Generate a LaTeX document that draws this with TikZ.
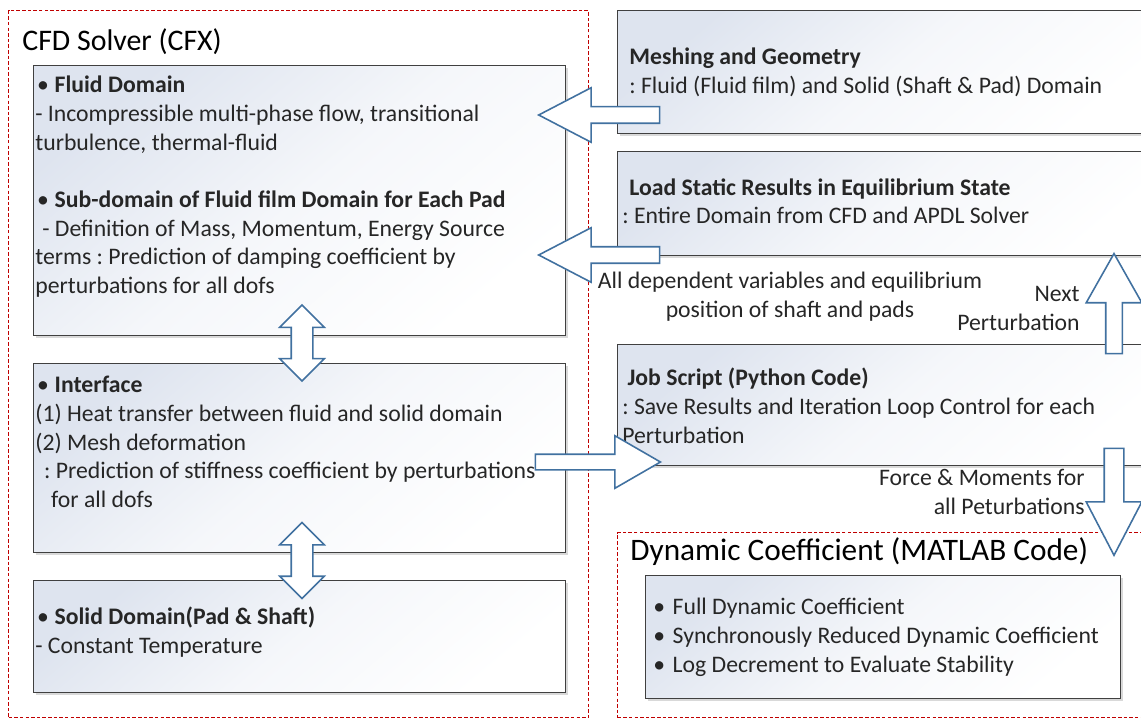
\documentclass[tikz,border=0pt]{standalone}
\usepackage{fontspec}
\setmainfont{Carlito}
\usetikzlibrary{shapes.arrows,shadows,positioning}
\definecolor{framered}{RGB}{192,0,0}
\definecolor{arrowblue}{RGB}{65,113,160}
\definecolor{boxtop}{RGB}{222,228,239}
\definecolor{boxline}{RGB}{64,64,64}
\newcommand{\bodysize}{\fontsize{13.5}{16.3}\selectfont}
\newcommand{\headsize}{\fontsize{17}{20}\selectfont}
\newcommand{\itm}{\makebox[10pt][l]{\textbullet}}
\newcommand{\litm}{\makebox[11pt][l]{\textbullet}}
\frenchspacing

\begin{document}
\begin{tikzpicture}[%
    x=0.02cm, y=-0.02cm,        % one unit is one pixel of the original
    every node/.style={inner sep=0pt},
    ]
\tikzset{
  frame/.style={draw=framered, line width=0.8pt, dash pattern=on 2pt off 1.2pt, anchor=north west},
  panel/.style={draw=boxline, line width=0.7pt, anchor=north west,
    top color=boxtop, bottom color=white, middle color=white!70!boxtop, shading angle=40,
    drop shadow={opacity=0.3, shadow xshift=1.5pt, shadow yshift=-1.5pt}},
  txt/.style={anchor=north west, align=left, font=\bodysize, text=black!85},
  bigarrow/.style={single arrow, draw=arrowblue, fill=white, line width=0.9pt,
    inner xsep=0pt, anchor=tip},
  twoarrow/.style={double arrow, draw=arrowblue, fill=white, line width=0.9pt,
    rotate=90, minimum height=1.52cm, inner xsep=0pt, inner ysep=0.2cm,
    double arrow head extend=0.23cm, double arrow tip angle=90},
}
\useasboundingbox (0,0) rectangle (1141,719);

% left side: CFD solver
\node [frame, minimum width=11.6cm, minimum height=14.14cm] (cfd) at (8,10) {};
\node [anchor=west, font=\headsize] (cfdtitle) at (22,42) {CFD Solver (CFX)};
\node [panel, minimum width=10.64cm, minimum height=5.4cm] (fluid) at (33,65) {};
\node [panel, minimum width=10.64cm, minimum height=3.78cm] (iface) at (33,363) {};
\node [panel, minimum width=10.64cm, minimum height=2.24cm] (solid) at (33,580) {};

\node [txt] (fluidtxt) at (35,76) {\hspace*{1pt}\itm\textbf{Fluid Domain}\\
  - Incompressible multi-phase flow, transitional\\
  turbulence, thermal-fluid\\[16.3pt]
  \hspace*{1pt}\itm\textbf{Sub-domain of Fluid film Domain for Each Pad}\\
  \hspace*{4pt}- Definition of Mass, Momentum, Energy Source\\
  terms : Prediction of damping coefficient by\\
  perturbations for all dofs};
\node [txt] (ifacetxt) at (35,376) {\hspace*{1pt}\itm\textbf{Interface}\\
  (1) Heat transfer between fluid and solid domain\\
  (2) Mesh deformation\\
  \hspace*{5pt}: Prediction of stiffness coefficient by perturbations\\
  \hspace*{9pt}for all dofs};
\node [txt] (solidtxt) at (35,607) {\hspace*{1pt}\itm\textbf{Solid Domain(Pad \& Shaft)}\\
  - Constant Temperature};

% right side: pre-processing and job control
\node [panel, minimum width=11cm, minimum height=2.46cm] (mesh) at (617,10) {};
\node [panel, minimum width=11cm, minimum height=2.08cm] (load) at (617,151) {};
\node [panel, minimum width=11cm, minimum height=2.42cm] (job) at (617,344) {};
\node [frame, minimum width=11cm, minimum height=3.7cm] (dyn) at (617,532) {};
\node [panel, minimum width=9.5cm, minimum height=2.46cm] (coef) at (645,575) {};

\node [txt] (meshtxt) at (622,48) {\hspace*{4pt}\textbf{Meshing and Geometry}\\
  \hspace*{4pt}: Fluid (Fluid film) and Solid (Shaft \& Pad) Domain};
\node [txt] (loadtxt) at (622,178) {\hspace*{4pt}\textbf{Load Static Results in Equilibrium State}\\
  : Entire Domain from CFD and APDL Solver};
\node [txt] (jobtxt) at (622,368) {\hspace*{3pt}\textbf{Job Script (Python Code)}\\
  : Save Results and Iteration Loop Control for each\\
  Perturbation};
\node [anchor=west, font=\fontsize{17.8}{21}\selectfont] (dyntitle) at (630,552) {Dynamic Coefficient (MATLAB Code)};
\node [txt] (coeftxt) at (653,598) {\litm Full Dynamic Coefficient\\
  \litm Synchronously Reduced Dynamic Coefficient\\
  \litm Log Decrement to Evaluate Stability};

% labels
\node [txt, anchor=north, align=center] (deplbl) at (790,272)
  {All dependent variables and equilibrium\\position of shaft and pads};
\node [txt, anchor=north east, align=right] (nextlbl) at (1080,286) {Next\\Perturbation};
\node [txt, anchor=north east, align=right] (forcelbl) at (1085,469)
  {Force \& Moments for\\all Peturbations};

% block arrows
\node [twoarrow] (fluidiface) at (302,343) {};
\node [twoarrow] (ifacesolid) at (302,560.5) {};
\node [bigarrow, rotate=180, minimum height=2.42cm, inner ysep=0.15cm,
  single arrow head extend=0.38cm, single arrow tip angle=55] (meshfluid) at (537,115) {};
\node [bigarrow, rotate=180, minimum height=2.42cm, inner ysep=0.15cm,
  single arrow head extend=0.38cm, single arrow tip angle=55] (loadfluid) at (537,255) {};
\node [bigarrow, minimum height=2.5cm, inner ysep=0.14cm,
  single arrow head extend=0.37cm, single arrow tip angle=60] (ifacejob) at (662,462) {};
\node [bigarrow, rotate=90, minimum height=2cm, inner ysep=0.15cm,
  single arrow head extend=0.39cm, single arrow tip angle=59] (jobload) at (1114,252) {};
\node [bigarrow, rotate=270, minimum height=2.14cm, inner ysep=0.18cm,
  single arrow head extend=0.36cm, single arrow tip angle=55] (jobdyn) at (1114,557) {};

\end{tikzpicture}
\end{document}
